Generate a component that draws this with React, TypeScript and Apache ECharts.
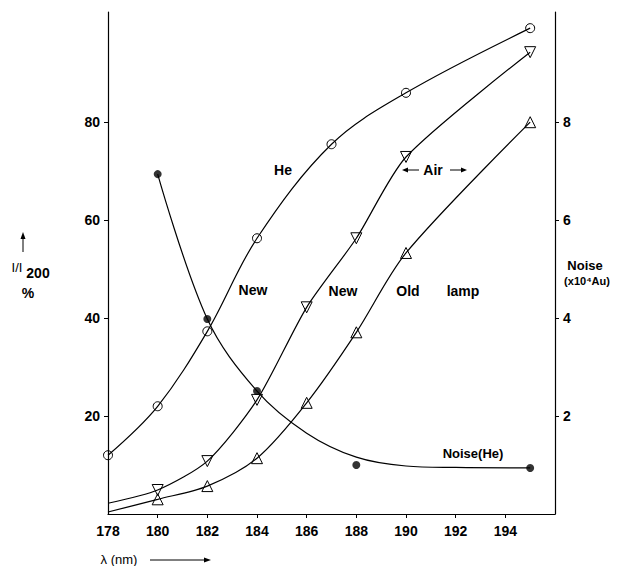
import React, { useEffect, useRef } from "react";
import * as echarts from "echarts";

// wavelength (nm) and transmission (%) — He purge, circles
const heX = [178, 180, 182, 184, 187, 190, 195];
const heY = [12, 22, 37.3, 56.3, 75.5, 86, 99.2];
// Air, new lamp — down triangles (178 is curve start, no marker)
const newX = [178, 180, 182, 184, 186, 188, 190, 195];
const newY = [2.2, 4.9, 10.8, 23.3, 42.2, 56.3, 72.9, 94.3];
// Air, old lamp — up triangles
const oldX = [178, 180, 182, 184, 186, 188, 190, 195];
const oldY = [0.4, 3.0, 5.7, 11.4, 22.7, 37.1, 53.3, 80];
// Noise (He) measured points, x10^4 Au
const noiseX = [180, 182, 184, 188, 195];
const noiseY = [6.94, 3.98, 2.51, 1.0, 0.94];
// Noise fitted curve
const noiseCurveX = [180, 182, 184, 186, 188, 190, 192, 195];
const noiseCurveY = [6.94, 3.98, 2.51, 1.65, 1.16, 0.98, 0.95, 0.94];

const xTicks = [178, 180, 182, 184, 186, 188, 190, 192, 194];
const leftTicks = [20, 40, 60, 80];
const rightTicks = [2, 4, 6, 8];

const FONT = "'Liberation Sans', Arial, sans-serif";

export default function App() {
  const ref = useRef<HTMLDivElement>(null);
  useEffect(() => {
    if (!ref.current) return;
    const chart = echarts.init(ref.current, null, { renderer: "svg" });
    const hollow = { color: "rgba(255,255,255,0)", borderColor: "#000", borderWidth: 1 };
    const line = { color: "#000", width: 1.2 };
    const pts = (xs: number[], ys: number[], skipFirst = false) =>
      xs.map((x, i) =>
        skipFirst && i === 0 ? { value: [x, ys[i]], symbol: "none" } : { value: [x, ys[i]] }
      );
    const labelStyle = {
      color: "#000",
      fontFamily: FONT,
      fontWeight: "bold" as const,
      fontSize: 14,
    };
    const txt = (x: number, y: number, text: string, extra: any = {}) => ({
      type: "text",
      x,
      y,
      style: {
        text,
        fill: "#000",
        font: `bold 14px ${FONT}`,
        textAlign: "center",
        textVerticalAlign: "middle",
        ...extra,
      },
    });
    chart.setOption({
      animation: false,
      backgroundColor: "#fff",
      grid: { left: 108, right: 65, top: 12, bottom: 52 },
      xAxis: {
        type: "value",
        min: 178,
        max: 196,
        interval: 2,
        axisLine: { lineStyle: { color: "#000", width: 1.2 } },
        axisTick: { show: true, length: 4, lineStyle: { color: "#000" }, customValues: xTicks.slice(1) },
        axisLabel: { ...labelStyle, margin: 10, customValues: xTicks, formatter: (v: number) => (v <= 194 ? String(v) : "") },
        splitLine: { show: false },
      },
      yAxis: [
        {
          type: "value",
          min: 0,
          max: 102.5,
          interval: 20,
          axisLine: { show: true, lineStyle: { color: "#000", width: 1.2 } },
          axisTick: { show: true, length: 4, lineStyle: { color: "#000" }, customValues: leftTicks },
          axisLabel: { ...labelStyle, margin: 8, customValues: leftTicks, formatter: (v: number) => (v > 0 && v <= 80 ? String(v) : "") },
          splitLine: { show: false },
        },
        {
          type: "value",
          min: 0,
          max: 10.25,
          interval: 2,
          position: "right",
          axisLine: { show: true, lineStyle: { color: "#000", width: 1.2 } },
          axisTick: { show: true, length: 4, lineStyle: { color: "#000" }, customValues: rightTicks },
          axisLabel: { ...labelStyle, margin: 8, customValues: rightTicks, formatter: (v: number) => (v > 0 && v <= 8 ? String(v) : "") },
          splitLine: { show: false },
        },
      ],
      series: [
        {
          type: "line",
          name: "He",
          smooth: 0.35,
          data: pts(heX, heY),
          symbol: "circle",
          symbolSize: 9,
          itemStyle: hollow,
          lineStyle: line,
        },
        {
          type: "line",
          name: "Air new",
          smooth: 0.25,
          data: pts(newX, newY, true),
          symbol: "triangle",
          symbolRotate: 180,
          symbolSize: 11,
          itemStyle: hollow,
          lineStyle: line,
        },
        {
          type: "line",
          name: "Air old",
          smooth: 0.3,
          data: pts(oldX, oldY, true),
          symbol: "triangle",
          symbolSize: 11,
          itemStyle: hollow,
          lineStyle: line,
        },
        {
          type: "line",
          name: "Noise curve",
          yAxisIndex: 1,
          smooth: 0.35,
          data: pts(noiseCurveX, noiseCurveY),
          symbol: "none",
          lineStyle: line,
        },
        {
          type: "scatter",
          name: "Noise (He)",
          yAxisIndex: 1,
          data: pts(noiseX, noiseY),
          symbol: "circle",
          symbolSize: 8,
          itemStyle: { color: "#000" },
        },
      ],
      graphic: [
        txt(283, 170, "He"),
        txt(433, 170, "Air"),
        { type: "line", shape: { x1: 405, y1: 170, x2: 419, y2: 170 }, style: { stroke: "#000", lineWidth: 1 } },
        { type: "polygon", shape: { points: [[402, 170], [408, 167.5], [408, 172.5]] }, style: { fill: "#000" } },
        { type: "line", shape: { x1: 450, y1: 170, x2: 464, y2: 170 }, style: { stroke: "#000", lineWidth: 1 } },
        { type: "polygon", shape: { points: [[467, 170], [461, 167.5], [461, 172.5]] }, style: { fill: "#000" } },
        txt(253, 290, "New"),
        txt(343, 291, "New"),
        txt(408, 291, "Old"),
        txt(463, 291, "lamp"),
        txt(473, 453, "Noise(He)", { font: `bold 13px ${FONT}` }),
        // left axis title
        { type: "line", shape: { x1: 23, y1: 252, x2: 23, y2: 237 }, style: { stroke: "#000", lineWidth: 1 } },
        { type: "polygon", shape: { points: [[23, 232], [20.5, 239], [25.5, 239]] }, style: { fill: "#000" } },
        txt(17, 267, "I/I", { font: `13px ${FONT}` }),
        txt(38, 273, "200", { font: `bold 14px ${FONT}` }),
        txt(28, 293, "%", { font: `bold 14px ${FONT}` }),
        // right axis title
        txt(585, 265, "Noise", { font: `bold 13px ${FONT}` }),
        txt(587, 281, "(x10⁴Au)", { font: `bold 11px ${FONT}` }),
        // x axis title
        txt(119, 559, "λ (nm)", { font: `13px ${FONT}` }),
        { type: "line", shape: { x1: 150, y1: 560, x2: 205, y2: 560 }, style: { stroke: "#000", lineWidth: 1 } },
        { type: "polygon", shape: { points: [[211, 560], [204, 557.5], [204, 562.5]] }, style: { fill: "#000" } },
      ],
    });
    return () => chart.dispose();
  }, []);
  return (
    <div
      ref={ref}
      style={{ position: "fixed", left: 0, top: 0, width: 620, height: 566, background: "#fff" }}
    />
  );
}
